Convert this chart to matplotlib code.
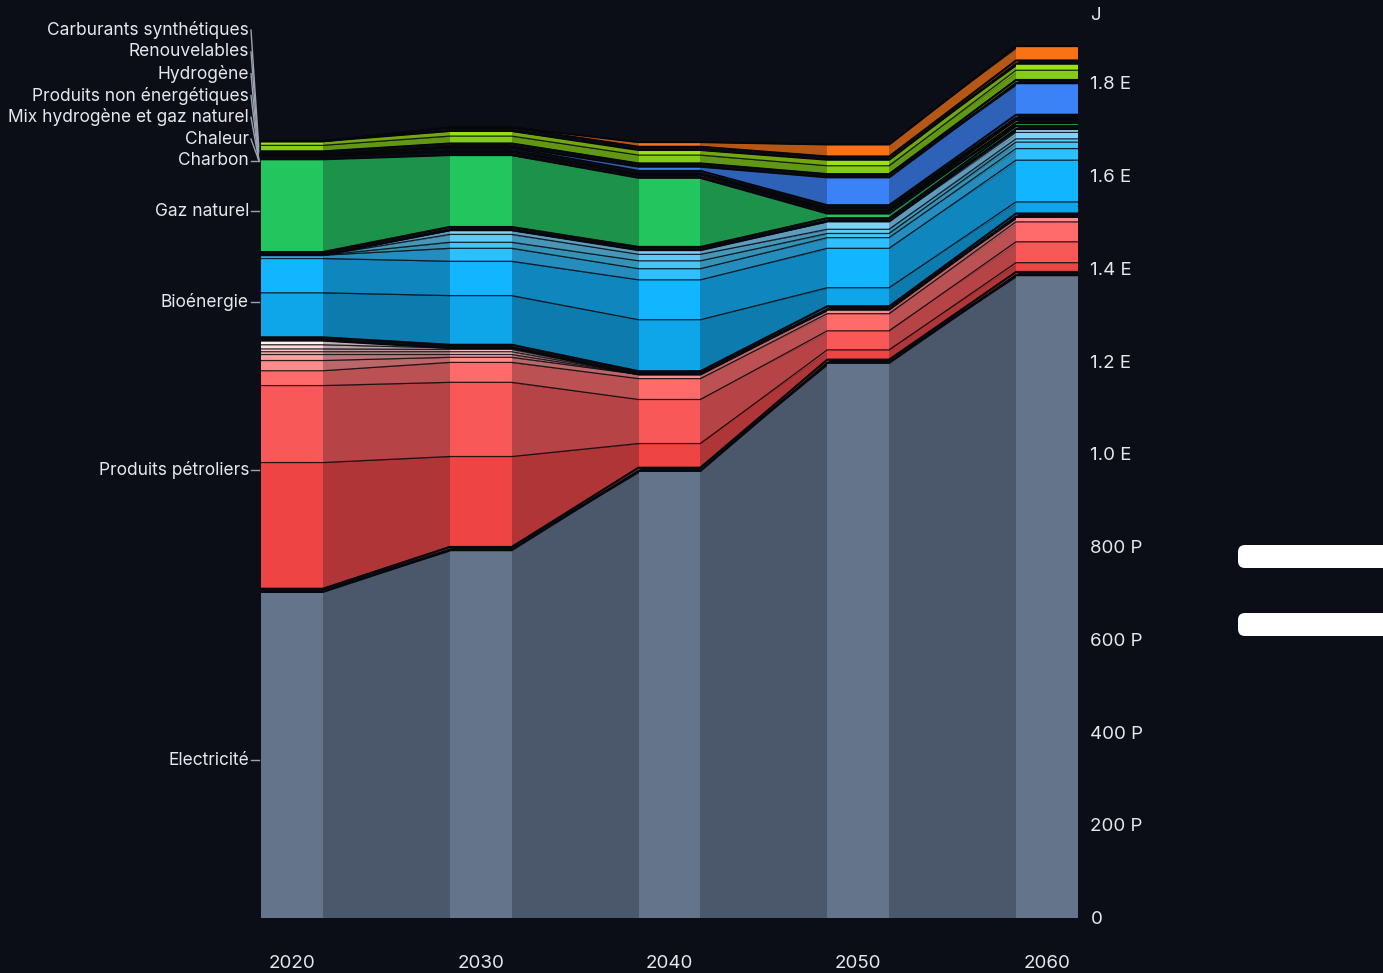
import matplotlib.pyplot as plt
from matplotlib.colors import to_rgb
from matplotlib.patches import FancyBboxPatch

plt.rcParams['font.family'] = ['Inter', 'DejaVu Sans']

years = [2020, 2030, 2040, 2050, 2060]

# valeurs en PJ, sous-séries de bas en haut
electricite = [[702, 792, 963, 1196, 1385]]
petrole = [
    [272, 195, 52, 21, 20],
    [166, 160, 95, 41, 45],
    [32, 43, 45, 37, 43],
    [22, 11, 9, 9, 11],
    [13, 6, 0, 0, 0],
    [6, 6, 0, 0, 0],
    [6, 5, 0, 0, 0],
    [9, 3, 0, 0, 0],
    [9, 0, 0, 0, 0],
]
bioenergie = [
    [96, 106, 111, 40, 25],
    [74, 74, 86, 85, 90],
    [7, 28, 24, 23, 25],
    [0, 13, 17, 9, 14],
    [0, 17, 14, 9, 7],
    [0, 9, 9, 17, 14],
    [0, 0, 0, 0, 7],
]
gaz = [[200, 155, 149, 10, 6]]
charbon = [[3, 1, 1, 4, 4]]
chaleur = [[0, 0, 0, 0, 0]]
mix_h2_gaz = [[0, 0, 0, 0, 0]]
non_energetiques = [[0, 0, 0, 0, 0]]
hydrogene = [[0, 3, 9, 60, 68]]
renouvelables = [[13, 16, 18, 18, 21], [9, 11, 11, 13, 14]]
carburants = [[0, 1, 10, 26, 31]]

groupes = [
    ('Electricité', electricite, ['#64748b']),
    ('Produits pétroliers', petrole, ['#ef4444', '#f85858', '#ff6b6b', '#ff8a8a', '#ffa0a0',
                                      '#ffb3b3', '#ffc7c7', '#ffdcdc', '#fff1f1']),
    ('Bioénergie', bioenergie, ['#0ea5e9', '#12b5ff', '#2ebfff', '#44c5f5', '#5fcbf5',
                                '#7dd3fc', '#a5e0fb']),
    ('Gaz naturel', gaz, ['#22c55e']),
    ('Charbon', charbon, ['#ca8a04']),
    ('Chaleur', chaleur, ['#f59e0b']),
    ('Mix hydrogène et gaz naturel', mix_h2_gaz, ['#14b8a6']),
    ('Produits non énergétiques', non_energetiques, ['#a855f7']),
    ('Hydrogène', hydrogene, ['#3b82f6']),
    ('Renouvelables', renouvelables, ['#84cc16', '#9be310']),
    ('Carburants synthétiques', carburants, ['#f97316']),
]

bg = '#0b0e17'
noir = '#05070b'
gap = 7
hw = 1.642  # demi-largeur des barres en années


def sombre(c, f=0.72):
    r, g, b = to_rgb(c)
    br, bgc, bb = to_rgb(bg)
    return (r * f + br * (1 - f), g * f + bgc * (1 - f), b * f + bb * (1 - f))


fig = plt.figure(figsize=(13.83, 9.73), dpi=100, facecolor=bg)
ymax = 1975
ax = fig.add_axes([261 / 1383, (973 - 917.5) / 973, (1078 - 261) / 1383, (917.5 - 1.6) / 973])
ax.set_facecolor(bg)

n = len(years)
cumul = [0] * n
lignes = []
contours = []
cibles = []
for nom, series, couleurs in groupes:
    tot = [sum(s[i] for s in series) for i in range(n)]
    for i in range(n):
        if tot[i] > 0 and cumul[i] > 0:
            cumul[i] += gap
    bas_groupe = list(cumul)
    for s, c in zip(series, couleurs):
        bas = list(cumul)
        haut = [cumul[i] + s[i] for i in range(n)]
        for i in range(n):
            if s[i] > 0:
                ax.fill_between([years[i] - hw, years[i] + hw], bas[i], haut[i], color=c,
                                lw=0, zorder=2.5)
            if i < n - 1 and (s[i] > 0 or s[i + 1] > 0):
                # léger recouvrement sous les barres pour éviter les joints
                ax.fill_between([years[i] + hw - 0.15, years[i + 1] - hw + 0.15],
                                [bas[i], bas[i + 1]], [haut[i], haut[i + 1]],
                                color=sombre(c), lw=0, zorder=2)
        if sum(s) > 0:
            lignes.append(haut)
        cumul = haut
    if sum(tot) > 0:
        contours.append(bas_groupe)
        contours.append(list(cumul))
    cibles.append((nom, (bas_groupe[0] + cumul[0]) / 2))

xs = []
for y in years:
    xs += [y - hw, y + hw]


def trace(v, **kw):
    ys = []
    for val in v:
        ys += [val, val]
    ax.plot(xs, ys, **kw)


for v in lignes:
    trace(v, color=noir, lw=0.9, alpha=0.85, zorder=3)
for v in contours:
    if max(v) > 0:
        trace(v, color=noir, lw=1.5, zorder=4)

# étiquettes à gauche
esp = 47
decal = -12
pos = []
for nom, y in cibles:
    ly = y + decal
    if pos and ly < pos[-1] + esp:
        ly = pos[-1] + esp
    pos.append(ly)
x0 = years[0] - hw
for (nom, y), ly in zip(cibles, pos):
    ax.text(x0 - 0.64, ly, nom, ha='right', va='center', color='#e5e7eb', fontsize=12.5,
            clip_on=False)
    ax.plot([x0 - 0.53, x0 - 0.12], [ly, y + decal], color='#9ca3af', lw=1, clip_on=False,
            zorder=5)

ax.set_xlim(years[0] - hw, years[-1] + hw)
ax.set_ylim(0, ymax)
ax.set_xticks(years)
ax.set_xticklabels([str(y) for y in years])
ticks = list(range(0, 1801, 200))
ax.set_yticks(ticks)
ax.set_yticklabels(['0' if t == 0 else (f'{t} P' if t < 1000 else f'{t / 1000:.1f} E') for t in ticks])
ax.yaxis.tick_right()
ax.tick_params(axis='x', length=0, pad=27, colors='#e5e7eb', labelsize=13.5)
ax.tick_params(axis='y', length=0, pad=9, colors='#e5e7eb', labelsize=13.5)
for sp in ax.spines.values():
    sp.set_visible(False)

fig.text(1090 / 1383, 1 - 15 / 973, 'J', color='#e5e7eb', fontsize=13.5, va='center', ha='left')

for ytop in (545, 613):
    fig.patches.append(FancyBboxPatch((12.38, (973 - ytop - 23) / 100), 1.6, 0.23,
                                      boxstyle='round,pad=0,rounding_size=0.07',
                                      transform=fig.dpi_scale_trans, facecolor='white',
                                      edgecolor='none'))

fig.savefig('out.png', dpi=100, facecolor=bg)
